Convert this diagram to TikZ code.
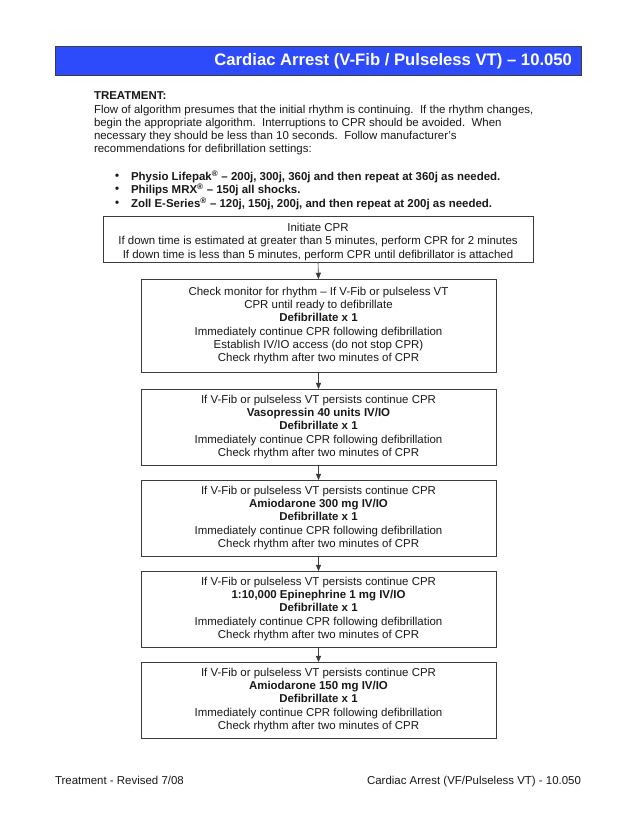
\documentclass[tikz,border=0pt]{standalone}
\usepackage{fontspec}
\setmainfont{Liberation Sans}
\usetikzlibrary{arrows.meta}
\definecolor{titleblue}{RGB}{45,75,250}
\definecolor{boxline}{RGB}{60,60,60}
\definecolor{txt}{RGB}{25,25,25}
\begin{document}
\begin{tikzpicture}[x=0.96pt,y=-0.96pt,
  every node/.style={inner sep=0pt,outer sep=0pt,text=txt},
  stepbox/.style={draw=boxline,line width=0.7pt,align=center,font=\fontsize{11}{12.6}\selectfont},
  flow/.style={draw=boxline,line width=0.6pt,-{Triangle[length=6pt,width=5pt]}},
  plain/.style={align=left,anchor=west,font=\fontsize{11}{12.7}\selectfont},
  bul/.style={anchor=west,font=\bfseries\fontsize{11}{12}\selectfont}]
\useasboundingbox (0,0) rectangle (637,825);
\fill[white] (0,0) rectangle (637,825);
% title bar
\node[draw=boxline,line width=0.8pt,fill=titleblue,minimum width=526*0.96pt,minimum height=29*0.96pt] (title) at (318,61) {};
\node[anchor=east,text=white,font=\bfseries\fontsize{16}{18}\selectfont] (titletext) at (572,61) {Cardiac Arrest (V-Fib / Pulseless VT) -- 10.050};
% treatment
\node[plain,font=\bfseries\fontsize{11}{12}\selectfont] (treat) at (94,96) {TREATMENT:};
\node[plain,anchor=north west] (para) at (94,105) {Flow of algorithm presumes that the initial rhythm is continuing.\ \ If the rhythm changes,\\
begin the appropriate algorithm.\ \ Interruptions to CPR should be avoided.\ \ When\\
necessary they should be less than 10 seconds.\ \ Follow manufacturer's\\
recommendations for defibrillation settings:};
% bullets
\node[bul] (d1) at (115,176.5) {\textbullet};
\node[bul] (b1) at (131,176.5) {Physio Lifepak\textsuperscript{\textregistered} -- 200j, 300j, 360j and then repeat at 360j as needed.};
\node[bul] (d2) at (115,190) {\textbullet};
\node[bul] (b2) at (131,190) {Philips MRX\textsuperscript{\textregistered} -- 150j all shocks.};
\node[bul] (d3) at (115,203.5) {\textbullet};
\node[bul] (b3) at (131,203.5) {Zoll E-Series\textsuperscript{\textregistered} -- 120j, 150j, 200j, and then repeat at 200j as needed.};
% boxes
\node[stepbox,font=\fontsize{11}{13}\selectfont,minimum width=430*0.96pt,minimum height=46*0.96pt] (s1) at (318,239) {\rule{0pt}{13pt}Initiate CPR\\
If down time is estimated at greater than 5 minutes, perform CPR for 2 minutes\\
If down time is less than 5 minutes, perform CPR until defibrillator is attached};
\node[stepbox,minimum width=355*0.96pt,minimum height=93*0.96pt] (s2) at (318.5,325.5) {Check monitor for rhythm -- If V-Fib or pulseless VT\\
CPR until ready to defibrillate\\
\textbf{Defibrillate x 1}\\
Immediately continue CPR following defibrillation\\
Establish IV/IO access (do not stop CPR)\\
Check rhythm after two minutes of CPR};
\node[stepbox,minimum width=355*0.96pt,minimum height=76*0.96pt] (s3) at (318.5,427) {If V-Fib or pulseless VT persists continue CPR\\
\textbf{Vasopressin 40 units IV/IO}\\
\textbf{Defibrillate x 1}\\
Immediately continue CPR following defibrillation\\
Check rhythm after two minutes of CPR};
\node[stepbox,minimum width=355*0.96pt,minimum height=76*0.96pt] (s4) at (318.5,518) {If V-Fib or pulseless VT persists continue CPR\\
\textbf{Amiodarone 300 mg IV/IO}\\
\textbf{Defibrillate x 1}\\
Immediately continue CPR following defibrillation\\
Check rhythm after two minutes of CPR};
\node[stepbox,minimum width=355*0.96pt,minimum height=76*0.96pt] (s5) at (318.5,609) {If V-Fib or pulseless VT persists continue CPR\\
\textbf{1:10,000 Epinephrine 1 mg IV/IO}\\
\textbf{Defibrillate x 1}\\
Immediately continue CPR following defibrillation\\
Check rhythm after two minutes of CPR};
\node[stepbox,minimum width=355*0.96pt,minimum height=76*0.96pt] (s6) at (318.5,700) {If V-Fib or pulseless VT persists continue CPR\\
\textbf{Amiodarone 150 mg IV/IO}\\
\textbf{Defibrillate x 1}\\
Immediately continue CPR following defibrillation\\
Check rhythm after two minutes of CPR};
% arrows
\draw[flow] (s1.south) -- (s2.north);
\draw[flow] (s2.south) -- (s3.north);
\draw[flow] (s3.south) -- (s4.north);
\draw[flow] (s4.south) -- (s5.north);
\draw[flow] (s5.south) -- (s6.north);
% footer
\node[anchor=base west,font=\fontsize{11}{12}\selectfont] (fl) at (55,784) {Treatment - Revised 7/08};
\node[anchor=base east,font=\fontsize{11}{12}\selectfont] (fr) at (581,784) {Cardiac Arrest (VF/Pulseless VT) - 10.050};
\end{tikzpicture}
\end{document}
